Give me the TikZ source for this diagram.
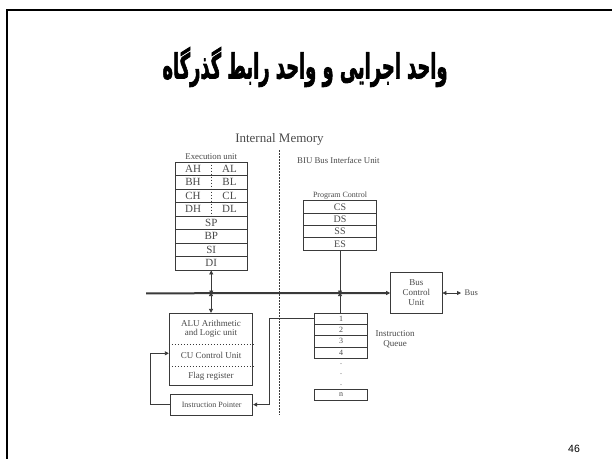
\documentclass[tikz,border=0pt]{standalone}
\usepackage{fontspec}
\usepackage{graphicx}
\setmainfont{Liberation Serif}
\newfontfamily\titlefont[Script=Arabic,FakeBold=2.5]{DejaVu Sans Bold}
\newfontfamily\numfont{Liberation Sans}
\usetikzlibrary{arrows.meta}
\TeXXeTstate=1
\definecolor{ln}{HTML}{3A3A3A}
\definecolor{tx}{HTML}{4A4A4A}
\newcommand{\fs}[1]{\fontsize{#1}{#1}\selectfont}
\begin{document}
\begin{tikzpicture}[x=1pt,y=-1pt,
  reg/.style={draw=ln,line width=0.8pt,minimum width=72.5pt,minimum height=13.5pt,inner sep=0pt,text=tx,font=\fs{11}},
  preg/.style={draw=ln,line width=0.8pt,minimum width=72.7pt,minimum height=12.3pt,inner sep=0pt,text=tx,font=\fs{10}},
  qreg/.style={draw=ln,line width=0.8pt,minimum width=52.7pt,minimum height=11.2pt,inner sep=0pt,text=tx,font=\fs{8}},
  unit/.style={draw=ln,line width=0.9pt,inner sep=0pt,text=tx},
  lbl/.style={text=tx,inner sep=0pt,font=\fs{9}},
  wire/.style={draw=ln,line width=0.8pt},
  arr/.style={wire,-{Triangle[length=4pt,width=4pt]}},
  darr/.style={wire,{Triangle[length=4pt,width=4pt]}-{Triangle[length=4pt,width=4pt]}},
  divider/.style={draw=ln,line width=0.7pt,dash pattern=on 1.5pt off 1.5pt}]
\useasboundingbox (0,0) rectangle (612,459);
\fill[white] (0,0) rectangle (612,459);
% slide frame
\draw[black,line width=2pt] (612,9.5) -- (6.5,9.5) -- (6.5,459);
% title
\node[inner sep=0pt] (title) at (305,67) {\resizebox*{285pt}{40pt}{\titlefont\fs{20}\beginR واحد اجرایی و واحد رابط گذرگاه\endR}};
% page number
\node[inner sep=0pt,font=\numfont\fs{10.5}] (pg) at (574,449) {46};
% header
\node[lbl,font=\fs{13}] (im) at (279.5,139) {Internal Memory};
\coordinate (dvt) at (279,150);
\coordinate (dvb) at (279,415);
\draw[divider] (dvt) -- (dvb);
\node[lbl,font=\fs{8.8}] (eu) at (211.25,157) {Execution unit};
\node[lbl,anchor=west,font=\fs{8.8}] (biu) at (297,160) {BIU Bus Interface Unit};
% execution unit registers
\node[reg] (r1) at (211.25,168.75) {};
\node[reg] (r2) at (211.25,182.25) {};
\node[reg] (r3) at (211.25,195.75) {};
\node[reg] (r4) at (211.25,209.25) {};
\node[reg] (sp) at (211.25,222.75) {SP};
\node[reg] (bp) at (211.25,236.25) {BP};
\node[reg] (si) at (211.25,249.75) {SI};
\node[reg] (di) at (211.25,263.25) {DI};
\draw[divider] (r1.north) -- (r4.south);
\node[lbl,font=\fs{11}] (ah) at (193,168.75) {AH};
\node[lbl,font=\fs{11}] (al) at (229.5,168.75) {AL};
\node[lbl,font=\fs{11}] (bh) at (193,182.25) {BH};
\node[lbl,font=\fs{11}] (bl) at (229.5,182.25) {BL};
\node[lbl,font=\fs{11}] (ch) at (193,195.75) {CH};
\node[lbl,font=\fs{11}] (cl) at (229.5,195.75) {CL};
\node[lbl,font=\fs{11}] (dh) at (193,209.25) {DH};
\node[lbl,font=\fs{11}] (dl) at (229.5,209.25) {DL};
% program control
\node[lbl,font=\fs{8}] (pc) at (340,196) {Program Control};
\node[preg] (cs) at (340,206.85) {CS};
\node[preg] (ds) at (340,219.15) {DS};
\node[preg] (ss) at (340,231.45) {SS};
\node[preg] (es) at (340,243.75) {ES};
% bus
\coordinate (busl) at (146,293.3);
\node[unit,minimum width=51.3pt,minimum height=40.6pt,align=center,font=\fs{9}] (bcu) at (416.3,293) {Bus\\[1pt]Control\\[1pt]Unit};
\draw[ln,line width=2pt] (busl) -- ([xshift=-4pt]bcu.west);
\draw[arr] ([xshift=-5pt]bcu.west) -- (bcu.west);
\coordinate (busr) at (461,293);
\draw[darr] (bcu.east) -- (busr);
\node[lbl,anchor=west,font=\fs{8.5}] (bus) at (464.5,293) {Bus};
% instruction queue
\node[qreg] (q1) at (341,318.9) {1};
\node[qreg] (q2) at (341,330.1) {2};
\node[qreg] (q3) at (341,341.3) {3};
\node[qreg] (q4) at (341,352.5) {4};
\node[lbl,font=\fs{8}] (d1) at (341,364) {.};
\node[lbl,font=\fs{8}] (d2) at (341,374.5) {.};
\node[lbl,font=\fs{8}] (d3) at (341,385) {.};
\node[qreg] (qn) at (341,395) {n};
\node[lbl,align=center,font=\fs{9}] (iq) at (395,339.5) {Instruction\\[1pt]Queue};
% ALU
\node[unit,minimum width=83.4pt,minimum height=72.4pt] (alu) at (211,349.5) {};
\draw[divider] (alu.west |- 0,344) -- (alu.east |- 0,344);
\draw[divider] (alu.west |- 0,366) -- (alu.east |- 0,366);
\node[lbl,align=center,font=\fs{9}] (alut) at (211,329) {ALU Arithmetic\\[0.5pt]and Logic unit};
\node[lbl,font=\fs{9}] (cu) at (211,355.5) {CU Control Unit};
\node[lbl,font=\fs{9}] (flag) at (211,376.5) {Flag register};
\node[unit,minimum width=82pt,minimum height=20.7pt,font=\fs{8}] (ip) at (211.7,404.6) {Instruction Pointer};
% connectors
\draw[darr] (di.south) -- ([yshift=-1.2pt]di.south |- busl);
\draw[darr] ([yshift=1.2pt]alu.north |- busl) -- (alu.north);
\draw[arr] (es.south) -- ([yshift=-1.2pt]es.south |- busl);
\draw[arr] (q1.north -| es.south) -- ([yshift=1.2pt]es.south |- busl);
\coordinate (fbl) at (150,353.3);
\draw[arr] (ip.west) -| (fbl) -- (fbl -| alu.west);
\coordinate (qil) at (269,318.3);
\draw[arr] (q1.west |- qil) -- (qil) |- (ip.east);
\end{tikzpicture}
\end{document}
